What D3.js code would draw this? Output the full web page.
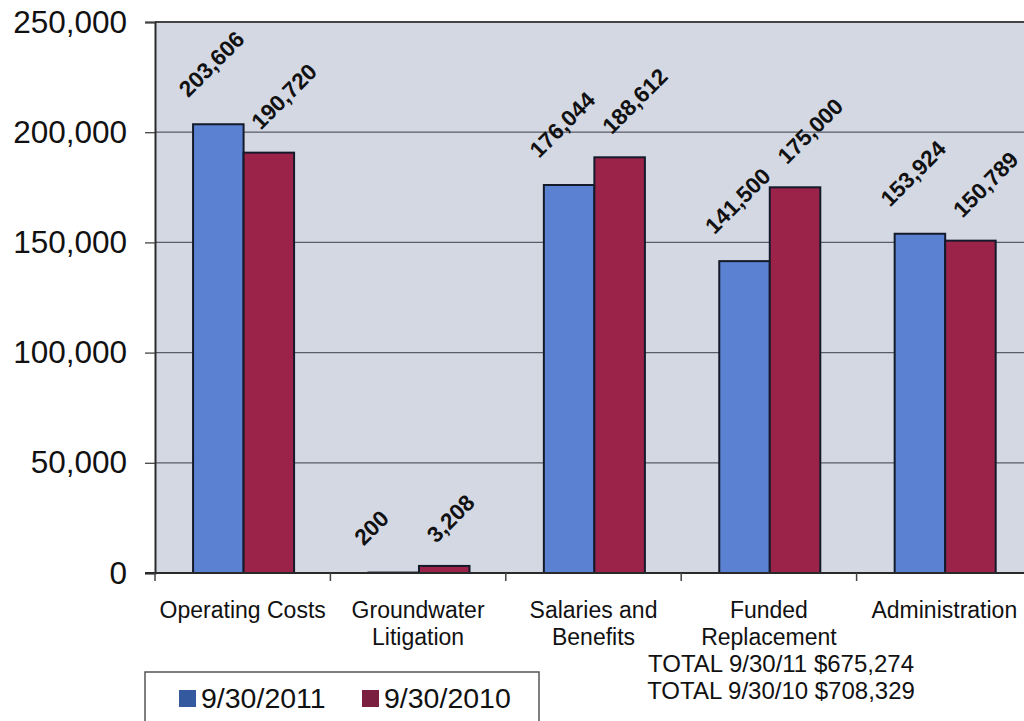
<!DOCTYPE html>
<html>
<head>
<meta charset="utf-8">
<script src="https://cdn.jsdelivr.net/npm/d3@7"></script>
<style>
  html, body { margin: 0; padding: 0; background: #ffffff; }
  svg { display: block; font-family: Arial, "Liberation Sans", sans-serif; }
</style>
</head>
<body>
<svg id="chart" width="1024" height="721"></svg>
<script>
const categories = ["Operating Costs", "Groundwater Litigation", "Salaries and Benefits", "Funded Replacement", "Administration"];
const categoryLines = [["Operating Costs"], ["Groundwater", "Litigation"], ["Salaries and", "Benefits"], ["Funded", "Replacement"], ["Administration"]];
const seriesNames = ["9/30/2011", "9/30/2010"];
const values2011 = [203606, 200, 176044, 141500, 153924];
const values2010 = [190720, 3208, 188612, 175000, 150789];
const yTicks = [0, 50000, 100000, 150000, 200000, 250000];
const totalLines = ["TOTAL 9/30/11 $675,274", "TOTAL 9/30/10 $708,329"];

const barColors = ["#5b82d2", "#9b2249"];
const legendColors = ["#34599e", "#7a1f3f"];

const svg = d3.select("#chart");
const plot = { left: 155, top: 22, right: 1032, bottom: 573 };

const y = d3.scaleLinear().domain([0, 250000]).range([plot.bottom, plot.top]);
const x0 = d3.scaleBand().domain(categories).range([plot.left, plot.right]).padding(0);
const bw = x0.bandwidth();
const x1 = d3.scaleBand().domain(seriesNames).range([bw * 0.217, bw * 0.793]).padding(0);

const fmt = d3.format(",");

// plot background
svg.append("rect")
  .attr("x", plot.left).attr("y", plot.top)
  .attr("width", plot.right - plot.left).attr("height", plot.bottom - plot.top)
  .attr("fill", "#d3d8e3");

// gridlines
svg.append("g").selectAll("line")
  .data(yTicks.filter(t => t > 0))
  .join("line")
  .attr("x1", plot.left).attr("x2", plot.right)
  .attr("y1", d => y(d)).attr("y2", d => y(d))
  .attr("stroke", d => d === 250000 ? "#444" : "#5a5d66")
  .attr("stroke-width", d => d === 250000 ? 2 : 1.3);

// y axis
const yAxis = d3.axisLeft(y).tickValues(yTicks).tickFormat(fmt).tickSize(10).tickPadding(18);
const gy = svg.append("g").attr("transform", `translate(${plot.left},0)`).call(yAxis);
gy.select(".domain").attr("stroke", "#2a2a2a").attr("stroke-width", 2);
gy.selectAll(".tick line").attr("stroke", "#444").attr("stroke-width", 1.3);
gy.selectAll(".tick text")
  .attr("font-size", 31.5).attr("fill", "#111")
  .attr("font-family", "Arial, 'Liberation Sans', sans-serif");

// bars
const data = categories.map((c, i) => ({ cat: c, vals: [values2011[i], values2010[i]] }));
const groups = svg.append("g").selectAll("g")
  .data(data).join("g")
  .attr("transform", d => `translate(${x0(d.cat)},0)`);

groups.selectAll("rect")
  .data(d => d.vals.map((v, j) => ({ s: seriesNames[j], v, j })))
  .join("rect")
  .attr("x", d => x1(d.s))
  .attr("y", d => y(d.v))
  .attr("width", x1.bandwidth())
  .attr("height", d => y(0) - y(d.v))
  .attr("fill", d => barColors[d.j])
  .attr("stroke", "#141a2a")
  .attr("stroke-width", 2);

// value labels (rotated -45); first series labels lean left, second right
const labelShift = [[-30, -26], [-8, -22]];
groups.selectAll("text.val")
  .data(d => d.vals.map((v, j) => ({ s: seriesNames[j], v, j })))
  .join("text")
  .attr("class", "val")
  .attr("transform", d => `translate(${x1(d.s) + x1.bandwidth() / 2 + labelShift[d.j][0]},${y(d.v) + labelShift[d.j][1]}) rotate(-45)`)
  .attr("font-size", 22.5)
  .attr("font-weight", "bold")
  .attr("fill", "#111")
  .text(d => fmt(d.v));

// x axis line
svg.append("line")
  .attr("x1", plot.left - 10).attr("x2", plot.right)
  .attr("y1", plot.bottom).attr("y2", plot.bottom)
  .attr("stroke", "#2a2a2a").attr("stroke-width", 2);

// x ticks at category boundaries
const boundaries = categories.map(c => x0(c));
svg.append("g").selectAll("line")
  .data(boundaries).join("line")
  .attr("x1", d => d).attr("x2", d => d)
  .attr("y1", plot.bottom).attr("y2", plot.bottom + 8)
  .attr("stroke", "#444").attr("stroke-width", 1.5);

// category labels
const xl = svg.append("g").selectAll("text")
  .data(categories.map((c, i) => ({ c, lines: categoryLines[i] })))
  .join("text")
  .attr("text-anchor", "middle")
  .attr("font-size", 23)
  .attr("fill", "#111")
  .attr("transform", d => `translate(${x0(d.c) + bw / 2},618)`);
xl.selectAll("tspan")
  .data(d => d.lines).join("tspan")
  .attr("x", 0)
  .attr("dy", (d, i) => i === 0 ? 0 : 27)
  .text(d => d);

// totals
svg.append("text")
  .attr("text-anchor", "middle")
  .attr("font-size", 24)
  .attr("fill", "#111")
  .attr("transform", "translate(781,672)")
  .selectAll("tspan").data(totalLines).join("tspan")
  .attr("x", 0)
  .attr("dy", (d, i) => i === 0 ? 0 : 27)
  .text(d => d);

// legend
svg.append("rect")
  .attr("x", 145).attr("y", 672).attr("width", 394).attr("height", 70)
  .attr("fill", "#fff").attr("stroke", "#555").attr("stroke-width", 1.5);
const lg = svg.append("g").selectAll("g")
  .data(seriesNames).join("g")
  .attr("transform", (d, i) => `translate(${179 + i * 183},0)`);
lg.append("rect")
  .attr("x", 0).attr("y", 690).attr("width", 17).attr("height", 17)
  .attr("fill", (d, i) => legendColors[i]);
lg.append("text")
  .attr("x", 22).attr("y", 708)
  .attr("font-size", 28.5).attr("fill", "#111")
  .text(d => d);
</script>
</body>
</html>
